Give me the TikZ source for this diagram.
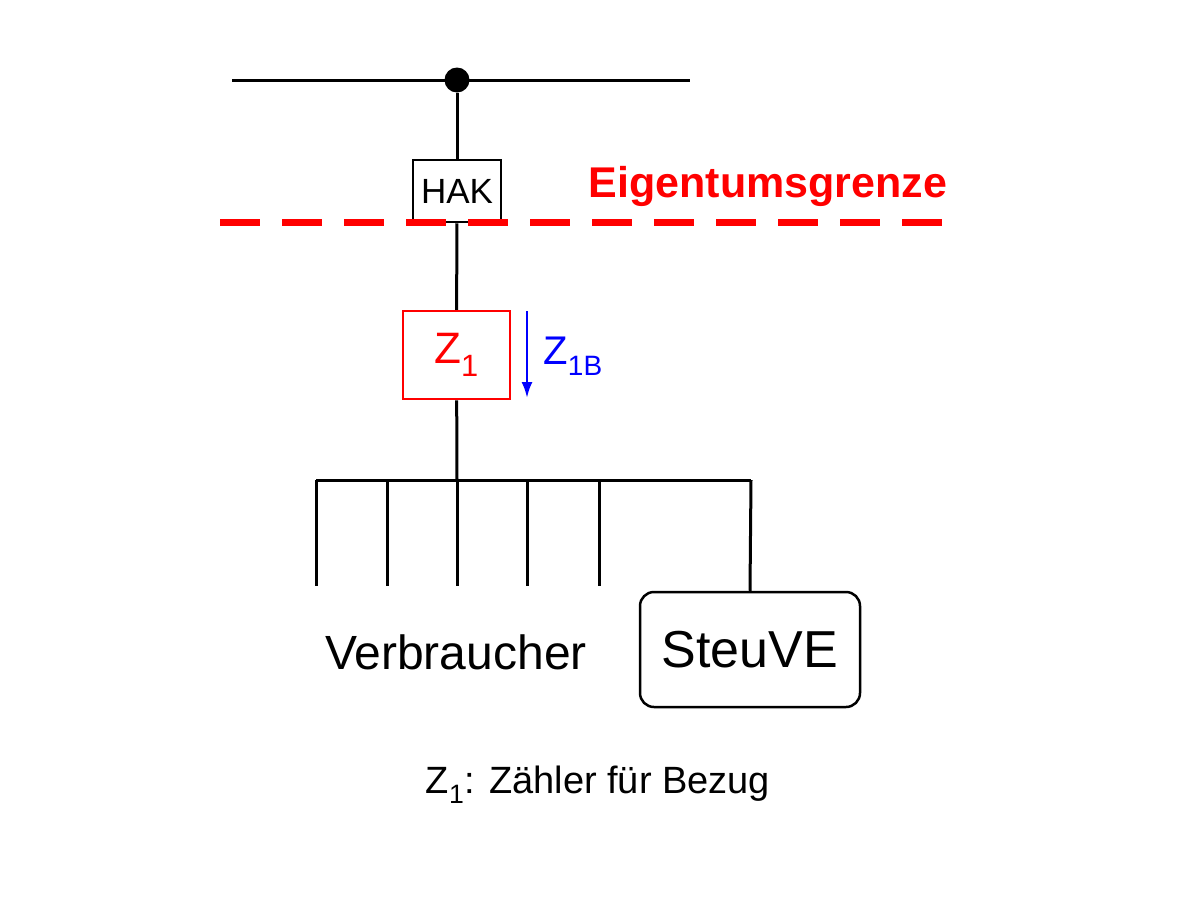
\documentclass[tikz,border=0pt]{standalone}
\usepackage{fontspec}
\usetikzlibrary{arrows.meta}
\setmainfont{Liberation Sans}
\begin{document}
\begin{tikzpicture}[x=1pt,y=-1pt,
  wire/.style={line width=3pt,black},
  box/.style={draw,line width=2.5pt,inner sep=0pt}]
\useasboundingbox (0,0) rectangle (1200,900);
\fill[white] (0,0) rectangle (1200,900);
\coordinate (busL) at (232,80); \coordinate (busR) at (690,80);
\draw[wire] (busL) -- (busR);
\node[circle,fill=black,minimum size=25pt,inner sep=0pt] (dot) at (457,80) {};
\node[box,minimum width=88pt,minimum height=62pt,font=\fontsize{35}{37}\selectfont] (hak) at (457,191) {HAK};
\draw[wire] (dot) -- (hak);
\coordinate (gl) at (220,222); \coordinate (gr) at (962,222);
\draw[red,line width=7pt,dash pattern=on 40pt off 22pt] (gl) -- (gr);
\node[red,font=\bfseries\fontsize{43}{46}\selectfont] (eg) at (768,186) {Eigentumsgrenze};
\node[box,draw=red,minimum width=107pt,minimum height=88pt,text=red,font=\fontsize{44}{46}\selectfont] (z1) at (456.5,355) {Z\textsubscript{1}};
\draw[wire] (hak) -- (z1);
\coordinate (a1) at (527,311); \coordinate (a2) at (527,398);
\draw[blue,line width=2.5pt,-{Latex[length=16pt,width=11pt]}] (a1) -- (a2);
\node[blue,anchor=west,font=\fontsize{40}{42}\selectfont] (z1b) at (540,356) {Z\textsubscript{1B}};
\coordinate (j) at (457,480);
\draw[wire] (z1) -- (j);
\coordinate (hl) at (316,480); \coordinate (hr) at (751,480);
\draw[wire] (hl) -- (hr);
\foreach \x/\n in {316/a,387/b,457/c,527/d,599/e}{
  \coordinate (t\n) at (\x,480); \coordinate (b\n) at (\x,586);
  \draw[wire] (t\n) -- (b\n);}
\node[box,rounded corners=14pt,minimum width=220pt,minimum height=115pt,font=\fontsize{52}{54}\selectfont] (st) at (750,649.5) {SteuVE};
\draw[wire] (hr) -- (st.north);
\node[font=\fontsize{48}{50}\selectfont] (vb) at (456,652) {Verbraucher};
\node[font=\fontsize{38}{40}\selectfont] (cap) at (598,785) {Z\textsubscript{1}: Zähler für Bezug};
\end{tikzpicture}
\end{document}
